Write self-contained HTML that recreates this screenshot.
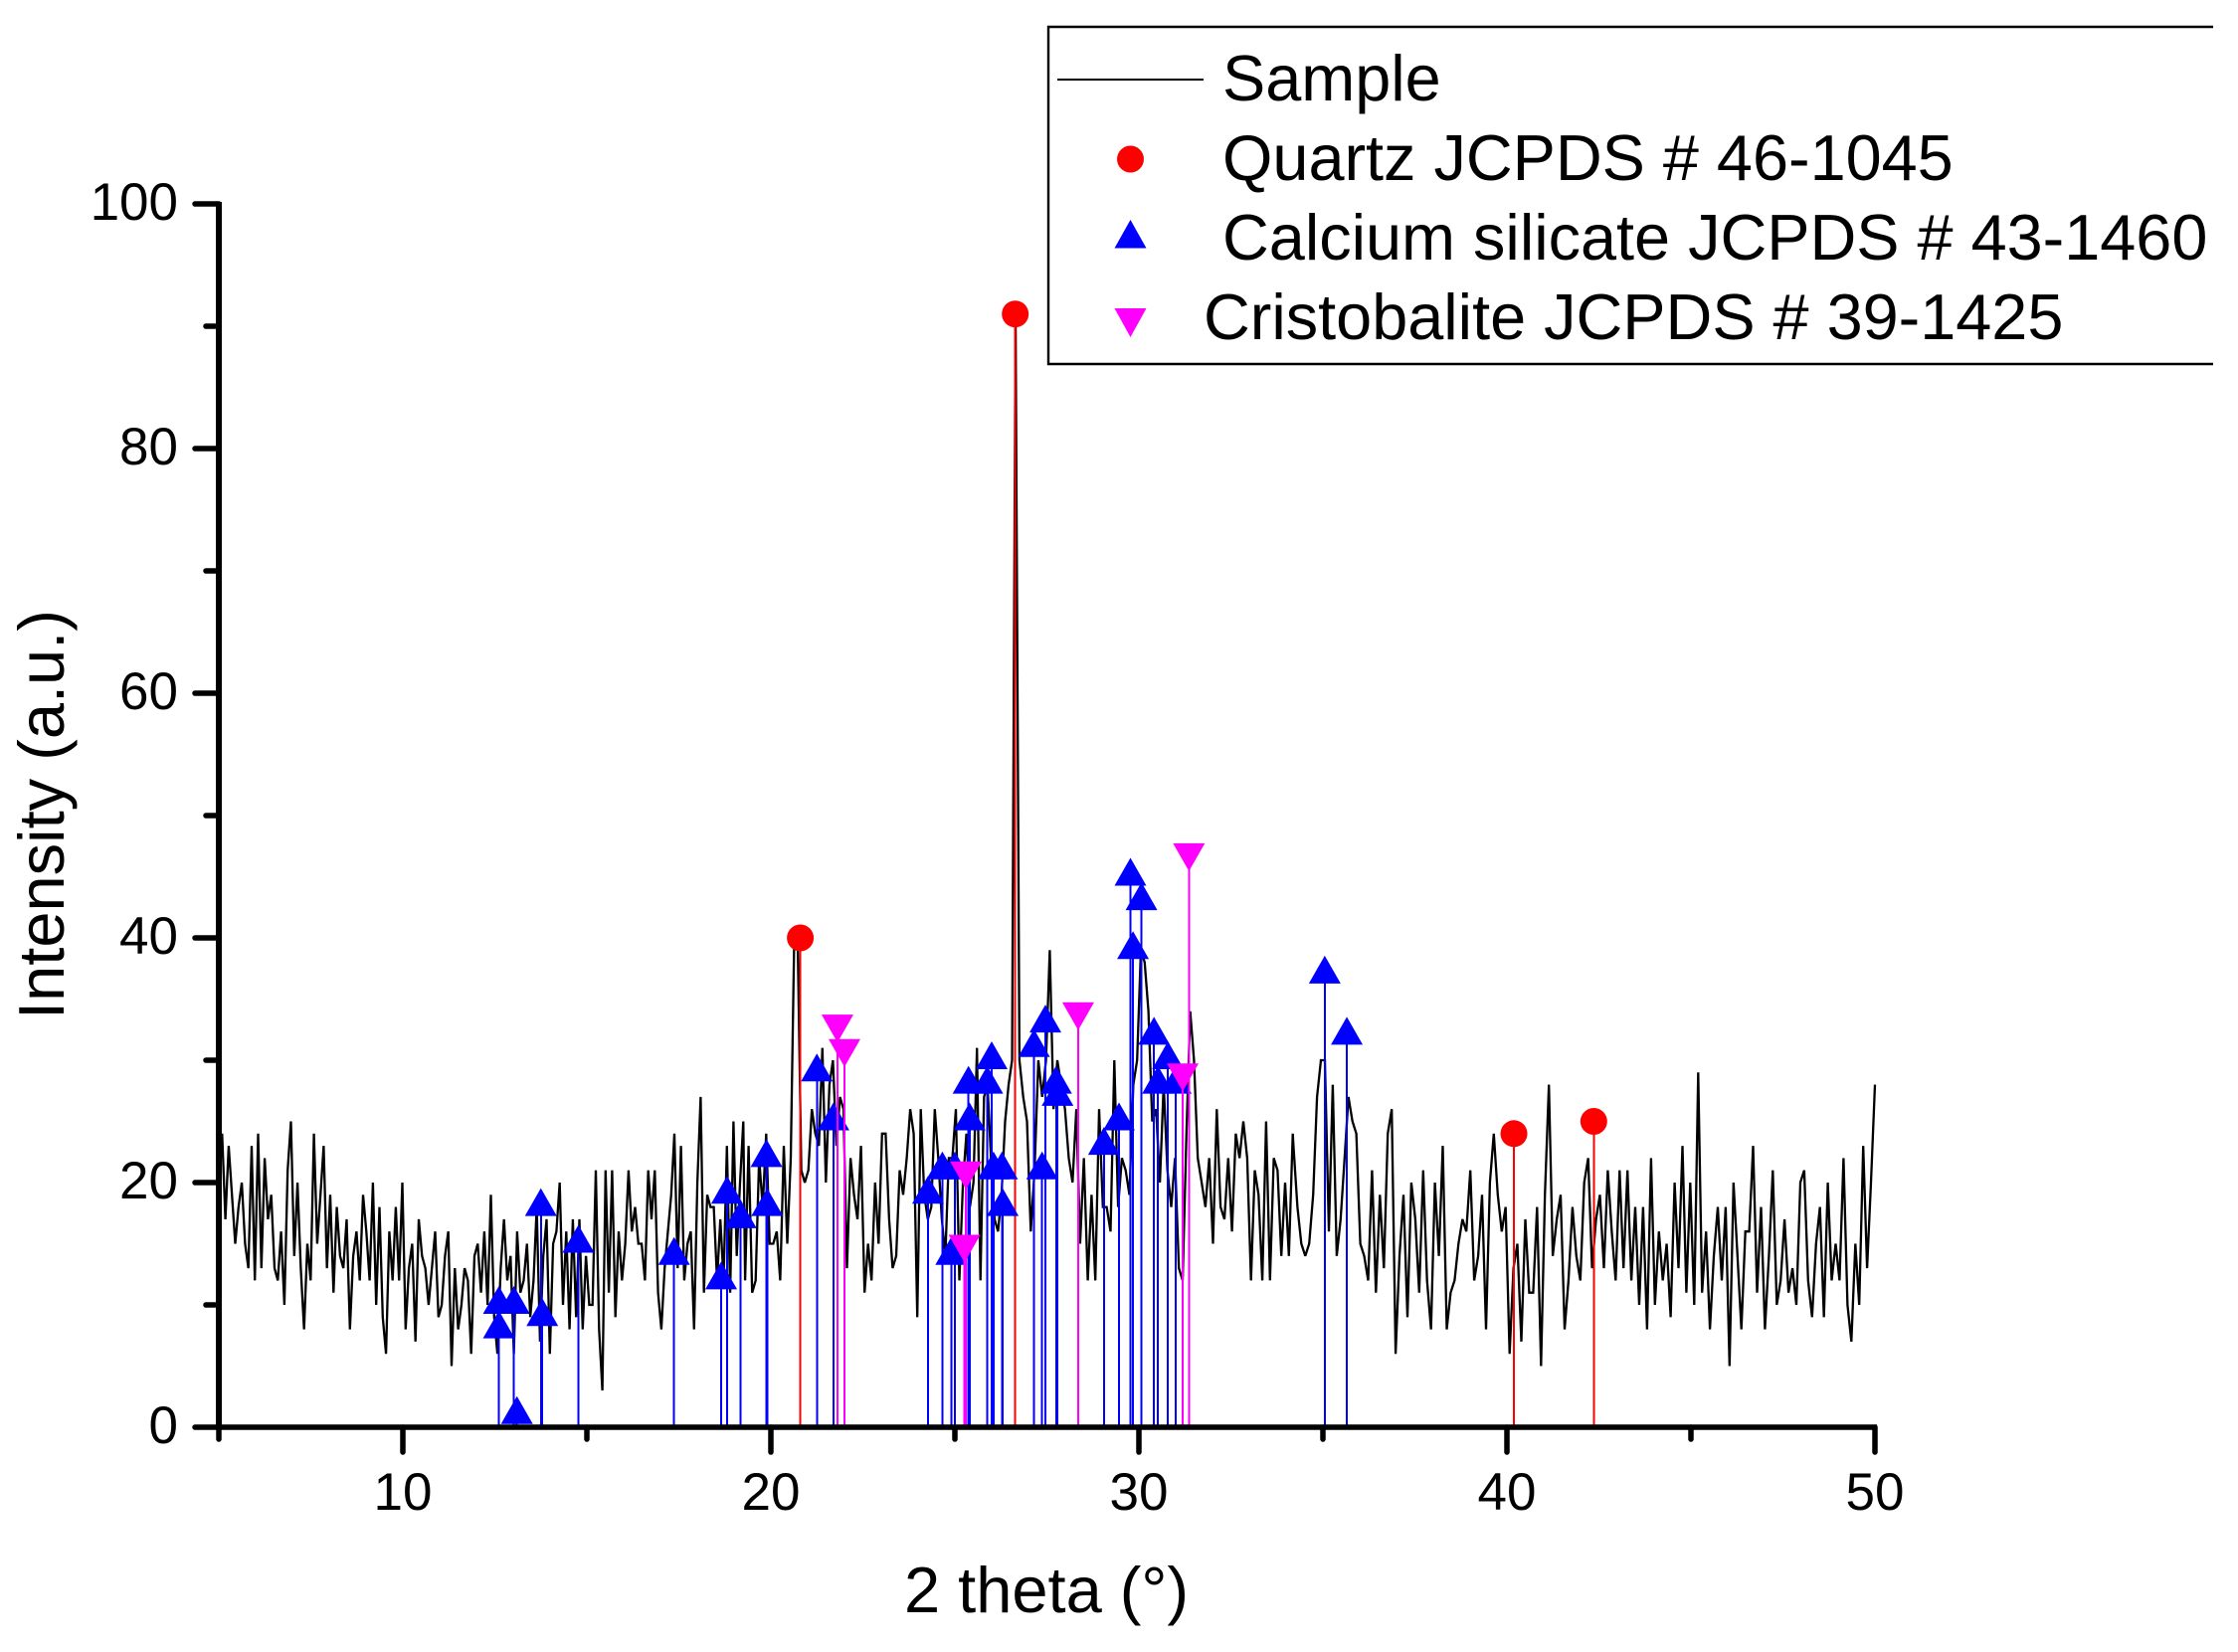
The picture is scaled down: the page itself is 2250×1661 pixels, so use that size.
<!DOCTYPE html>
<html lang="en">
<head>
<meta charset="utf-8">
<title>XRD pattern</title>
<style>
html,body{margin:0;padding:0;background:#fff;}
svg{display:block;}
text{font-family:"Liberation Sans",Arial,sans-serif;fill:#000;}
</style>
</head>
<body>
<svg id="chart" xmlns="http://www.w3.org/2000/svg" width="2250" height="1661" viewBox="0 0 2250 1661">
  <rect x="0" y="0" width="2250" height="1661" fill="#fff"/>
  <g id="sample-layer"></g>
  <g id="quartz-layer"></g>
  <g id="calcium-layer"></g>
  <g id="cristobalite-layer"></g>
  <g id="axes-layer"></g>
  <text x="1052" y="1621" font-size="65" text-anchor="middle">2 theta (°)</text>
  <text transform="translate(64,819) rotate(-90)" font-size="65" text-anchor="middle">Intensity (a.u.)</text>
  <g>
    <path d="M2225 27H1054V366H2225" fill="none" stroke="#000" stroke-width="2.4"/>
    <line x1="1063" y1="80" x2="1210" y2="80" stroke="#000" stroke-width="2"/>
    <text x="1229" y="101" font-size="64.8">Sample</text>
    <circle cx="1136.5" cy="160" r="13.5" fill="#ff0000"/>
    <text x="1229" y="181" font-size="64.8">Quartz JCPDS # 46-1045</text>
    <polygon points="1136.5,221 1152.5,249.5 1120.5,249.5" fill="#0000ff"/>
    <text x="1229" y="261" font-size="64.8">Calcium silicate JCPDS # 43-1460</text>
    <polygon points="1120.5,310 1152.5,310 1136.5,339" fill="#ff00ff"/>
    <text x="1210" y="341" font-size="64.8">Cristobalite JCPDS # 39-1425</text>
  </g>
</svg>
<script>
// Sample trace in four stretches of 2-theta
const sampleRangeA = [5, 19.25];
const sampleIntensityA = [20,24,17,23,19,15,18,20,15,13,23,12,24,13,22,17,19,13,12,16,10,21,25,14,20,13,8,15,12,24,15,19,23,13,19,11,18,14,13,17,8,14,16,12,19,16,12,20,10,18,9,6,16,12,18,12,20,8,13,15,7,17,14,13,10,13,16,9,10,14,16,5,13,8,10,13,12,6,14,15,11,16,10,19,9,6,13,17,12,14,6,16,11,12,15,9,12,18,7,14,17,6,15,16,20,10,16,8,17,9,17,8,14,10,10,21,8,3,21,11,21,9,16,12,15,21,16,18,15,15,12,21,17,21,11,8,13,16,19,24,13,23,12,15,16,8,20,27,11,19,18,18,12,17,12,23,11,25,14,20,25];
const sampleRangeB = [19.3, 26.65];
const sampleIntensityB = [12,23,11,12,22,18,24,15,15,16,12,23,15,22,40,39,21,20,21,26,24,23,31,20,28,30,23,27,26,13,22,19,17,23,11,15,12,20,15,24,24,17,13,14,21,19,22,26,24,9,26,19,17,18,26,22,17,14,22,22,26,12,20,24,18,20,31,12,27,28,22,17,16,19,25,28,30,91];
const sampleRangeC = [26.65, 34.18];
const sampleIntensityC = [91,30,27,25,16,21,30,27,30,39,26,30,28,26,22,20,26,15,22,12,19,12,26,18,18,16,30,18,22,21,19,28,30,39,38,34,25,26,20,28,21,18,22,13,12,24,34,30,22,20,18,22,15,26,18,17,22,16,24,22,25,22,12,21,19,12,25,12,22,21,14,20,14,24];
const sampleRangeD = [34.2, 50];
const sampleIntensityD = [23,18,15,14,15,19,27,30,30,16,28,14,17,22,27,25,24,15,14,12,21,11,19,13,24,26,6,14,19,9,20,17,11,21,12,8,20,14,23,8,11,12,15,17,16,21,12,14,19,8,20,24,19,16,18,6,13,15,7,17,11,11,18,5,19,28,14,17,19,8,12,18,14,12,20,22,13,17,19,13,21,16,12,21,13,21,12,18,10,18,8,22,10,16,12,15,9,20,13,23,11,20,10,29,11,16,8,14,18,12,18,5,20,14,8,16,16,23,11,18,8,14,21,10,12,17,11,13,10,20,21,12,9,15,18,9,20,12,15,12,22,10,7,15,10,23,13,20,28];

// Reference patterns: 2-theta positions and relative intensities
const quartzAngles = [20.8, 26.64, 40.19, 42.36];
const quartzIntensity = [40, 91, 24, 25];
const calciumAngles = [12.61,12.61,13.02,13.1,13.75,13.79,14.77,17.37,18.65,18.81,19.18,19.88,19.9,21.25,21.7,24.27,24.66,24.9,25.0,25.37,25.4,25.88,26.0,26.05,26.28,26.3,27.15,27.37,27.46,27.75,27.79,29.05,29.46,29.77,29.84,30.07,30.41,30.52,30.79,31.0,35.05,35.65];
const calciumIntensity = [8,10,10,1,18,9,15,14,12,19,17,22,18,29,25,19,21,14,21,28,25,28,30,21,21,18,31,21,33,28,27,23,25,45,39,43,32,28,30,28,37,32];
const cristobaliteAngles = [21.81,22.0,25.26,25.3,28.35,31.19,31.36];
const cristobaliteIntensity = [33,31,15,21,34,29,47];

// Tick labels
const xMajorTicks = [10,20,30,40,50];
const xMinorTicks = [5,15,25,35,45];
const yMajorTicks = [0,20,40,60,80,100];
const yMinorTicks = [10,30,50,70,90];

const SVGNS = 'http://www.w3.org/2000/svg';
const xScale = v => 220 + (v - 5) * 37;
const yScale = v => 1435 - v * 12.3;

function shape(tag, attrs, parent) {
  const el = document.createElementNS(SVGNS, tag);
  for (const k in attrs) el.setAttribute(k, attrs[k]);
  parent.appendChild(el);
  return el;
}

// Sample trace
const samplePoints = [];
[[sampleRangeA, sampleIntensityA], [sampleRangeB, sampleIntensityB], [sampleRangeC, sampleIntensityC], [sampleRangeD, sampleIntensityD]].forEach(function (pair) {
  const range = pair[0], vals = pair[1];
  vals.forEach(function (v, i) {
    const angle = range[0] + (range[1] - range[0]) * i / (vals.length - 1);
    samplePoints.push(xScale(angle).toFixed(1) + ',' + yScale(v).toFixed(1));
  });
});
const sampleLine = shape('polyline', {points: samplePoints.join(' '), fill: 'none', stroke: '#000', 'stroke-width': 2.3, 'stroke-linejoin': 'miter', 'stroke-miterlimit': 3}, document.getElementById('sample-layer'));



// Stems
function drawStems(angles, values, layerId, color) {
  const layer = document.getElementById(layerId);
  angles.forEach(function (a, i) {
    const stem = shape('line', {x1: xScale(a), x2: xScale(a), y1: yScale(values[i]), y2: 1435, stroke: color, 'stroke-width': 2, 'shape-rendering': 'crispEdges'}, layer);
    
    
  });
}
drawStems(quartzAngles, quartzIntensity, 'quartz-layer', '#ff0000');
drawStems(calciumAngles, calciumIntensity, 'calcium-layer', '#0000ff');
drawStems(cristobaliteAngles, cristobaliteIntensity, 'cristobalite-layer', '#ff00ff');

// Markers
quartzAngles.forEach(function (a, i) {
  const dot = shape('circle', {cx: xScale(a), cy: yScale(quartzIntensity[i]), r: 13.5, fill: '#ff0000'}, document.getElementById('quartz-layer'));
  
  
});
calciumAngles.forEach(function (a, i) {
  const x = xScale(a), y = yScale(calciumIntensity[i]);
  const tri = shape('polygon', {points: x + ',' + (y - 19) + ' ' + (x + 16) + ',' + (y + 9) + ' ' + (x - 16) + ',' + (y + 9), fill: '#0000ff'}, document.getElementById('calcium-layer'));
  
  
});
cristobaliteAngles.forEach(function (a, i) {
  const x = xScale(a), y = yScale(cristobaliteIntensity[i]);
  const tri = shape('polygon', {points: (x - 16) + ',' + (y - 9) + ' ' + (x + 16) + ',' + (y - 9) + ' ' + x + ',' + (y + 19), fill: '#ff00ff'}, document.getElementById('cristobalite-layer'));
  
  
});

// Axes
const axes = document.getElementById('axes-layer');
const yAxisLine = shape('line', {x1: 220, x2: 220, y1: 203, y2: 1437, stroke: '#000', 'stroke-width': 6}, axes);


const xAxisLine = shape('line', {x1: 218, x2: 1887, y1: 1435, y2: 1435, stroke: '#000', 'stroke-width': 5.5}, axes);



xMajorTicks.forEach(function (v) {
  const t = shape('line', {x1: xScale(v), x2: xScale(v), y1: 1435, y2: 1460, stroke: '#000', 'stroke-width': 5.5, 'stroke-linecap': 'round'}, axes);
  
  
  const label = shape('text', {x: xScale(v), y: 1518, 'font-size': 53, 'text-anchor': 'middle'}, axes);
  label.textContent = v;
  
  
});
xMinorTicks.forEach(function (v) {
  const t = shape('line', {x1: xScale(v), x2: xScale(v), y1: 1435, y2: 1447, stroke: '#000', 'stroke-width': 5.5, 'stroke-linecap': 'round'}, axes);
  
  
});
yMajorTicks.forEach(function (v) {
  const t = shape('line', {x1: 196, x2: 220, y1: yScale(v), y2: yScale(v), stroke: '#000', 'stroke-width': 5.5, 'stroke-linecap': 'round'}, axes);
  
  
  const label = shape('text', {x: 179, y: yScale(v) + 16, 'font-size': 53, 'text-anchor': 'end'}, axes);
  label.textContent = v;
  
  
});
yMinorTicks.forEach(function (v) {
  const t = shape('line', {x1: 207, x2: 220, y1: yScale(v), y2: yScale(v), stroke: '#000', 'stroke-width': 5.5, 'stroke-linecap': 'round'}, axes);
  
  
});
</script>
</body>
</html>
